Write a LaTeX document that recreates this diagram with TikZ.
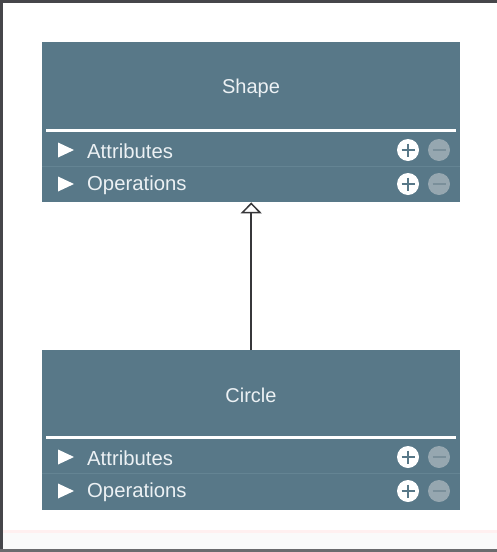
\documentclass[tikz,border=0pt]{standalone}
\usepackage{fontspec}
\setmainfont{Liberation Sans}
\usetikzlibrary{arrows.meta}
\definecolor{boxc}{RGB}{88,120,136}
\definecolor{sepc}{RGB}{100,132,147}
\definecolor{minusc}{RGB}{150,167,176}
\definecolor{minusbar}{RGB}{122,143,154}
\definecolor{txtc}{RGB}{236,241,244}
\definecolor{framec}{RGB}{70,70,74}
\definecolor{arrowc}{RGB}{55,55,58}
\tikzset{
  classbox/.style={fill=boxc, draw=none, minimum width=418pt, minimum height=160pt, inner sep=0pt, anchor=north west},
  title/.style={text=txtc, font=\fontsize{20}{23}\selectfont, inner sep=0pt},
  rowtxt/.style={text=txtc, font=\fontsize{20.3}{23}\selectfont, inner sep=0pt, anchor=west},
  plusc/.style={fill=white, draw=none, circle, minimum size=22pt, inner sep=0pt},
  minusci/.style={fill=minusc, draw=none, circle, minimum size=22pt, inner sep=0pt},
  inherit/.style={draw=arrowc, line width=1.7pt, -{Triangle[open, length=11pt, width=21pt, line width=1.5pt]}}
}
\newcommand{\umlrows}[1]{%
  \fill[white] (46,#1-21) rectangle (456,#1-18);
  \draw[sepc, line width=1pt] (42,#1+16) -- (460,#1+16);
  \foreach \yy/\lab in {#1/Attributes, #1+34/Operations}{
    \fill[white] (58,\yy-7.5) -- (58,\yy+7.5) -- (74,\yy) -- cycle;
    \node[rowtxt] at (87,\yy+1) {\lab};
    \node[plusc] at (408,\yy) {};
    \draw[boxc, line width=2.8pt] (401.5,\yy) -- (414.5,\yy) (408,\yy-6.5) -- (408,\yy+6.5);
    \node[minusci] at (439,\yy) {};
    \draw[minusbar, line width=2.8pt] (432.5,\yy) -- (445.5,\yy);
  }%
}
\begin{document}
\begin{tikzpicture}[x=1pt, y=-1pt]
\useasboundingbox (0,0) rectangle (497,552);
\fill[white] (0,0) rectangle (497,552);
% frame
\fill[framec] (0,0) rectangle (497,2.5);
\fill[framec] (0,0) rectangle (2.5,552);
\fill[framec!80] (0,549) rectangle (497,552);
\fill[red!6] (2.5,530) rectangle (497,533);
\fill[black!2] (2.5,533) rectangle (497,549);
% boxes
\node[classbox] (shape) at (42,42) {};
\node[classbox] (circ) at (42,350) {};
\node[title] (shapet) at (251,88) {Shape};
\node[title] (circt) at (251,395) {Circle};
\umlrows{150}
\umlrows{457}
% inheritance
\draw[inherit] (circ.north) -- (shape.south);
\end{tikzpicture}
\end{document}
